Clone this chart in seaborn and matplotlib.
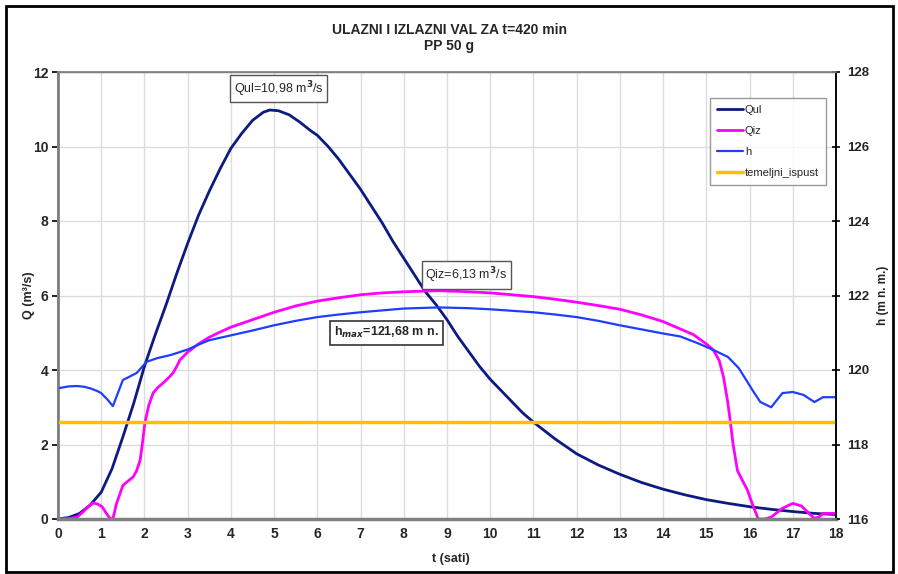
import matplotlib
matplotlib.use("Agg")
import matplotlib.pyplot as plt
from matplotlib.patches import Rectangle
import pandas as pd
import seaborn as sns

# Inflow hydrograph Qul (m3/s)
t_ul = [0, 0.25, 0.5, 0.75, 1, 1.25, 1.5, 1.75, 2, 2.25, 2.5, 2.75, 3, 3.25, 3.5, 3.75,
        4, 4.25, 4.5, 4.75, 4.9, 5.1, 5.35, 5.6, 5.85, 6, 6.25, 6.5, 6.75, 7, 7.25,
        7.5, 7.75, 8, 8.25, 8.5, 8.75, 9, 9.25, 9.5, 9.75, 10, 10.25, 10.5, 10.75,
        11, 11.5, 12, 12.5, 13, 13.5, 14, 14.5, 15, 15.5, 16, 16.5, 17, 17.5, 18]
q_ul = [0, 0.04, 0.15, 0.38, 0.72, 1.35, 2.2, 3.1, 4.1, 4.95, 5.75, 6.6, 7.4, 8.15,
        8.8, 9.4, 9.95, 10.35, 10.7, 10.92, 10.98, 10.96, 10.85, 10.65, 10.42, 10.3,
        10.0, 9.65, 9.25, 8.85, 8.4, 7.95, 7.45, 7.0, 6.55, 6.1, 5.75, 5.35, 4.9, 4.5,
        4.1, 3.75, 3.45, 3.15, 2.85, 2.6, 2.15, 1.75, 1.45, 1.2, 0.98, 0.8, 0.65, 0.52,
        0.42, 0.33, 0.26, 0.2, 0.15, 0.12]

# Outflow hydrograph Qiz (m3/s)
t_iz = [0, 0.25, 0.44, 0.58, 0.7, 0.81, 0.92, 1.02, 1.12, 1.2, 1.27, 1.35, 1.5, 1.6,
        1.74, 1.82, 1.9, 1.95, 2.01, 2.1, 2.2, 2.3, 2.43, 2.55, 2.66, 2.75, 2.82, 3.0,
        3.25, 3.5, 3.75, 4, 4.5, 5, 5.5, 6, 6.5, 7, 7.5, 8, 8.8, 9.5, 10, 10.5, 11,
        11.5, 12, 12.5, 13, 13.5, 14, 14.4, 14.7, 15, 15.16, 15.3, 15.4, 15.5, 15.55,
        15.62, 15.72, 15.85, 15.95, 16.05, 16.2, 16.35, 16.5, 16.75, 17.0, 17.2, 17.4,
        17.5, 17.6, 17.7, 18]
q_iz = [0, 0.01, 0.05, 0.19, 0.33, 0.43, 0.4, 0.33, 0.15, 0.02, 0, 0.4, 0.9, 1.0,
        1.13, 1.3, 1.58, 2.0, 2.58, 3.05, 3.38, 3.52, 3.65, 3.78, 3.92, 4.1, 4.27, 4.48,
        4.7, 4.88, 5.02, 5.15, 5.35, 5.55, 5.72, 5.85, 5.94, 6.02, 6.07, 6.1, 6.13,
        6.1, 6.07, 6.02, 5.97, 5.9, 5.82, 5.73, 5.63, 5.48, 5.3, 5.1, 4.95, 4.7, 4.54,
        4.25, 3.8, 3.1, 2.66, 2.0, 1.3, 1.0, 0.78, 0.45, 0.0, 0.0, 0.05, 0.28, 0.42,
        0.35, 0.12, 0.02, 0.05, 0.15, 0.15]

# Reservoir level h (m n. m.)
t_h = [0, 0.25, 0.44, 0.6, 0.74, 0.9, 1.0, 1.15, 1.27, 1.5, 1.82, 2.05, 2.3, 2.6, 3,
       3.25, 3.5, 4, 4.5, 5, 5.5, 6, 6.5, 7, 7.5, 8, 8.8, 9.5, 10, 10.5, 11, 11.5,
       12, 12.5, 13, 13.5, 14, 14.4, 14.8, 15.16, 15.5, 15.75, 15.95, 16.1, 16.25,
       16.5, 16.76, 17.0, 17.25, 17.5, 17.7, 18]
h = [119.51, 119.56, 119.57, 119.55, 119.51, 119.44, 119.38, 119.2, 119.03, 119.73,
     119.92, 120.22, 120.32, 120.4, 120.55, 120.68, 120.8, 120.93, 121.06, 121.2,
     121.32, 121.42, 121.49, 121.55, 121.6, 121.65, 121.68, 121.66, 121.63, 121.59,
     121.55, 121.49, 121.42, 121.32, 121.2, 121.09, 120.98, 120.9, 120.72, 120.54,
     120.35, 120.05, 119.68, 119.4, 119.14, 119.0, 119.38, 119.41, 119.33, 119.14,
     119.27, 119.27]

# Bottom outlet elevation (m n. m.)
t_ispust = [0, 18]
h_ispust = [118.6, 118.6]

title_lines = ["ULAZNI I IZLAZNI VAL ZA t=420 min", "PP 50 g"]
x_ticks = list(range(0, 19))
q_ticks = [0, 2, 4, 6, 8, 10, 12]
h_ticks = [116, 118, 120, 122, 124, 126, 128]

sns.set_theme(style="white")
plt.rcParams["font.family"] = ["Liberation Sans Narrow", "Liberation Sans", "DejaVu Sans"]
plt.rcParams["font.weight"] = "bold"

fig = plt.figure(figsize=(8.98, 5.74), dpi=100)
ax = fig.add_axes([58 / 898, 1 - 519 / 574, (836 - 58) / 898, (519 - 72) / 574])
ax2 = ax.twinx()

df_ul = pd.DataFrame({"t": t_ul, "Q": q_ul})
df_iz = pd.DataFrame({"t": t_iz, "Q": q_iz})
df_h = pd.DataFrame({"t": t_h, "h": h})
df_isp = pd.DataFrame({"t": t_ispust, "h": h_ispust})

sns.lineplot(data=df_ul, x="t", y="Q", ax=ax, color="#0d1a80", lw=2.0, label="Qul", legend=False)
sns.lineplot(data=df_iz, x="t", y="Q", ax=ax, color="#ff00ff", lw=2.0, label="Qiz", legend=False)
sns.lineplot(data=df_h, x="t", y="h", ax=ax2, color="#1f3dff", lw=1.6, label="h", legend=False)
sns.lineplot(data=df_isp, x="t", y="h", ax=ax2, color="#ffc000", lw=2.5, label="temeljni_ispust", legend=False)

ax.set_xlim(0, 18)
ax.set_ylim(0, 12)
ax2.set_ylim(116, 128)
ax.set_xticks(x_ticks)
ax.set_yticks(q_ticks)
ax2.set_yticks(h_ticks)
ax.set_xticklabels([str(v) for v in x_ticks], fontsize=10, fontweight="bold")
ax.set_yticklabels([str(v) for v in q_ticks], fontsize=10, fontweight="bold")
ax2.set_yticklabels([str(v) for v in h_ticks], fontsize=9.5, fontweight="bold")

ax.grid(True, color="#dcdcdc", lw=1.0)
ax.set_axisbelow(True)
ax2.grid(False)

for side in ["left", "bottom", "top"]:
    ax.spines[side].set_color("#808080")
    ax2.spines[side].set_color("#808080")
ax.spines["left"].set_linewidth(2)
ax.spines["bottom"].set_linewidth(2.5)
ax.spines["top"].set_linewidth(1)
ax2.spines["right"].set_color("black")
ax2.spines["right"].set_linewidth(1.2)
ax.tick_params(axis="both", direction="out", length=4, width=1.2, color="black", pad=3)
ax.tick_params(axis="x", direction="inout", length=6)
ax2.tick_params(axis="y", direction="inout", length=6, width=1.2, color="black", pad=5)

ax.set_xlabel("t (sati)", fontsize=9, fontweight="bold")
ax.xaxis.set_label_coords(0.505, -0.075)
ax.set_ylabel("Q (m³/s)", fontsize=9, fontweight="bold")
ax.yaxis.set_label_coords(-0.03, 0.5)
ax2.set_ylabel("h (m n. m.)", fontsize=8.5, fontweight="bold")
ax2.yaxis.set_label_coords(1.053, 0.5)

fig.text(0.5, 1 - 30 / 574, title_lines[0], ha="center", va="center", fontsize=10, fontweight="bold")
fig.text(0.5, 1 - 46 / 574, title_lines[1], ha="center", va="center", fontsize=10, fontweight="bold")

box = dict(boxstyle="square,pad=0.3", fc="white", ec="#555555", lw=1)
ax.text(5.1, 11.55, "Qul=10,98 m$^3$/s", ha="center", va="center", fontsize=9,
        fontweight="normal", bbox=box)
ax.text(9.45, 6.55, "Qiz=6,13 m$^3$/s", ha="center", va="center", fontsize=9,
        fontweight="normal", bbox=box)
ax.text(7.6, 5.0, "h$_{max}$=121,68 m n.", ha="center", va="center", fontsize=9,
        fontweight="bold", bbox=dict(boxstyle="square,pad=0.35", fc="white", ec="#333333", lw=1.2))

handles = ax.get_lines()[:2] + ax2.get_lines()[:2]
leg = ax2.legend(handles, ["Qul", "Qiz", "h", "temeljni_ispust"], loc="upper left",
                 bbox_to_anchor=(0.838, 0.942), frameon=True, fancybox=False,
                 handlelength=2.4, handletextpad=0.15, labelspacing=1.0,
                 borderpad=0.6, borderaxespad=0.0,
                 prop={"weight": "normal", "size": 8})
leg.get_frame().set_edgecolor("#808080")
leg.get_frame().set_linewidth(1)

fig.patches.append(Rectangle((6 / 898, 1 - 572 / 574), 887 / 898, 566 / 574,
                             transform=fig.transFigure, fill=False, ec="black", lw=2))

fig.savefig("out.png", dpi=100)
